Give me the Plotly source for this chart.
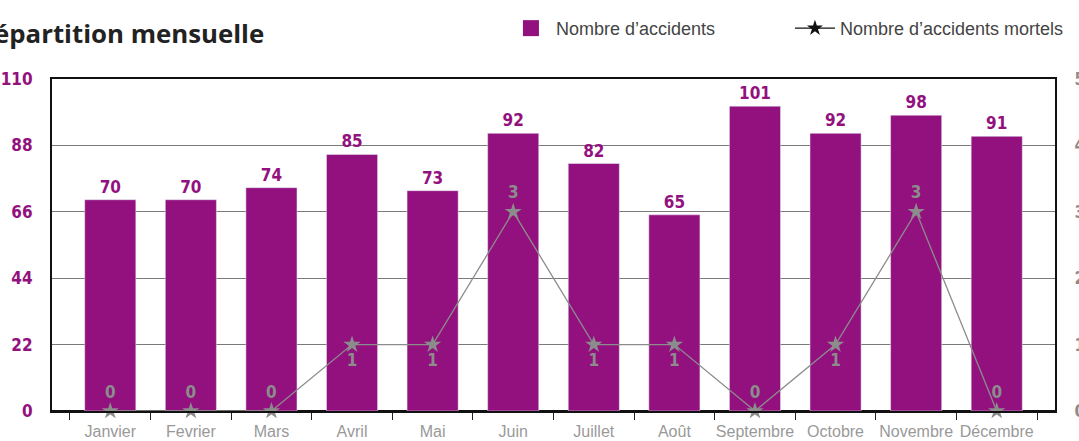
import plotly.graph_objects as go

mois = ["Janvier", "Fevrier", "Mars", "Avril", "Mai", "Juin", "Juillet",
        "Août", "Septembre", "Octobre", "Novembre", "Décembre"]
accidents = [70, 70, 74, 85, 73, 92, 82, 65, 101, 92, 98, 91]
mortels = [0, 0, 0, 1, 1, 3, 1, 1, 0, 1, 3, 0]
ticks_gauche = [0, 22, 44, 66, 88, 110]
ticks_droite = [0, 1, 2, 3, 4, 5]

violet = "#93117e"
gris = "#8c8c8c"
num_font = "Liberation Sans Narrow, DejaVu Sans Condensed, sans-serif"

# position des etiquettes du trait : sous le point quand il vaut 1
pos_mortels = ["bottom center" if v == 1 else "top center" for v in mortels]

fig = go.Figure()
fig.add_trace(go.Bar(
    x=mois, y=accidents, showlegend=False,
    marker_color=violet,
    text=accidents, textposition="outside", cliponaxis=False,
    textfont=dict(family=num_font, size=17, color=violet, weight="bold"),
))
fig.add_trace(go.Scatter(
    x=mois, y=mortels, yaxis="y2", mode="lines+markers+text",
    line=dict(color=gris, width=1.3),
    marker=dict(symbol="star", size=13, color=gris),
    text=mortels, textposition=pos_mortels, cliponaxis=False,
    textfont=dict(family=num_font, size=17, color=gris, weight="bold"),
    showlegend=False,
))
# entrees de legende seules (carre violet plus grand, trait noir)
fig.add_trace(go.Scatter(
    x=[None], y=[None], mode="markers", name="Nombre d’accidents",
    marker=dict(symbol="square", size=18, color=violet),
))
fig.add_trace(go.Scatter(
    x=[None], y=[None], yaxis="y2", mode="lines+markers",
    name="Nombre d’accidents mortels",
    line=dict(color="#111", width=1.3),
    marker=dict(symbol="star", size=12, color="#111"),
))

fig.update_layout(
    width=1079, height=441,
    margin=dict(l=52, r=24, t=79, b=30, autoexpand=False),
    plot_bgcolor="white", paper_bgcolor="white",
    bargap=0.366,
    font=dict(family="Liberation Sans, Arial, sans-serif", color="#444"),
    legend=dict(orientation="h", x=0.4526, xanchor="left", y=1.208, yanchor="top",
                font=dict(size=18, color="#444"), itemwidth=40,
                traceorder="normal", entrywidthmode="pixels", entrywidth=229),
    xaxis=dict(
        showline=True, linecolor="#111", linewidth=2, mirror=True,
        ticks="outside", tickson="boundaries", ticklen=7, tickcolor="#222",
        tickangle=0, automargin=False, ticklabelstandoff=5,
        tickfont=dict(size=16, color="#999"),
    ),
    yaxis=dict(
        range=[0, 110], tickvals=ticks_gauche, automargin=False,
        showline=True, linecolor="#111", linewidth=2,
        gridcolor="#7a7a7a", gridwidth=1.2, zeroline=True,
        zerolinecolor="#111", zerolinewidth=3,
        ticklabelstandoff=14,
        tickfont=dict(family=num_font, size=17, color=violet, weight="bold"),
    ),
    yaxis2=dict(
        range=[0, 5], tickvals=ticks_droite, overlaying="y", side="right",
        showline=True, linecolor="#111", linewidth=2, showgrid=False,
        zeroline=False, ticklabelstandoff=14, automargin=False,
        tickfont=dict(family=num_font, size=17, color=gris, weight="bold"),
    ),
    annotations=[dict(
        text="<b>Répartition mensuelle</b>", xref="paper", yref="paper",
        x=0.2134, y=1.139, xanchor="right", yanchor="middle", showarrow=False,
        font=dict(family="Open Sans, sans-serif", size=25.8, color="#222"),
    )],
)

# page sans marge pour que la figure tienne pile dans la fenetre
fig.write_html("out.html", config={"displayModeBar": False},
               post_script="document.body.style.margin='0';")
